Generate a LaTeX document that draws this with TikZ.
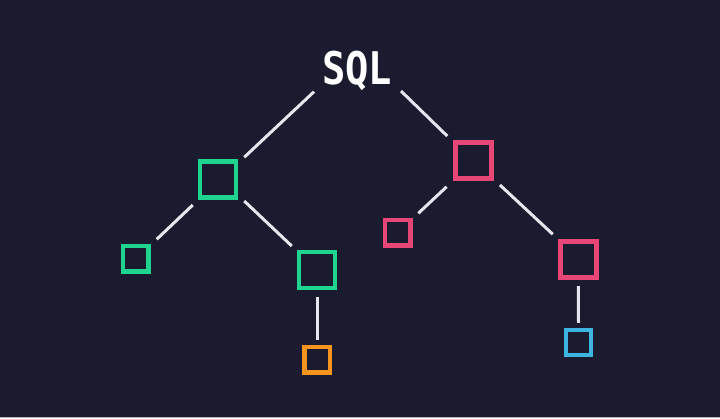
\documentclass[tikz,border=0pt]{standalone}
\usepackage{fontspec}
\usepackage{graphicx}
\usetikzlibrary{calc}
\newfontfamily\sqlfont{DejaVu Sans Mono}
\definecolor{bgc}{HTML}{1A1B2E}
\definecolor{edgec}{HTML}{E6E6F0}
\definecolor{greenc}{HTML}{1FD48F}
\definecolor{pinkc}{HTML}{E84677}
\definecolor{orangec}{HTML}{F7941E}
\definecolor{bluec}{HTML}{3DB5E0}
\definecolor{stripc}{HTML}{B4B4BC}
\begin{document}
\begin{tikzpicture}[x=1pt,y=-1pt,
  bigbox/.style={draw=#1,line width=4.5pt,minimum size=36pt,inner sep=0pt,outer sep=2.25pt},
  smallbox/.style={draw=#1,line width=4.5pt,minimum size=25.5pt,inner sep=0pt,outer sep=2.25pt},
  edge/.style={draw=edgec,line width=3pt}]
\fill[bgc] (0,0) rectangle (720,418);
\useasboundingbox (0,0) rectangle (720,418);
\fill[stripc] (0,416.6) rectangle (720,418);
\node[anchor=base,text=white,inner sep=0pt] (root) at (357,84)
  {\scalebox{0.86}[1]{\sqlfont\bfseries\fontsize{45}{45}\selectfont SQL}};
\node[bigbox=greenc] (g1) at (218,179.5) {};
\node[bigbox=greenc] (g2) at (317,270) {};
\node[smallbox=greenc] (gs) at (135.7,258.5) {};
\node[bigbox=pinkc] (p1) at (473.7,160.5) {};
\node[bigbox=pinkc] (p2) at (578.3,259.5) {};
\node[smallbox=pinkc] (ps) at (397.7,232.7) {};
\node[smallbox=orangec] (o) at (317,359.5) {};
\node[smallbox=bluec,minimum size=25pt] (b) at (578.5,342.5) {};
\draw[edge] ($(root.base)+(-43,7.7)$) -- ($(g1.north east)+(6,-2)$);
\draw[edge] ($(root.base)+(44,7)$) -- ($(p1.north west)+(-6.2,-4.2)$);
\draw[edge] ($(g1.south west)+(-5,5.25)$) -- ($(gs.north east)+(6,-4.2)$);
\draw[edge] ($(g1.south east)+(6,1.25)$) -- ($(g2.north west)+(-5,-3.75)$);
\draw[edge] ($(g2.south)+(0,6.5)$) -- ($(o.north)+(0,-4.25)$);
\draw[edge] ($(p1.south west)+(-6.8,6)$) -- ($(ps.north east)+(5.6,-4.4)$);
\draw[edge] ($(p1.south east)+(6,4.25)$) -- ($(p2.north west)+(-5.3,-5)$);
\draw[edge] ($(p2.south)+(0,6.25)$) -- ($(b.north)+(0,-5)$);
\end{tikzpicture}
\end{document}
